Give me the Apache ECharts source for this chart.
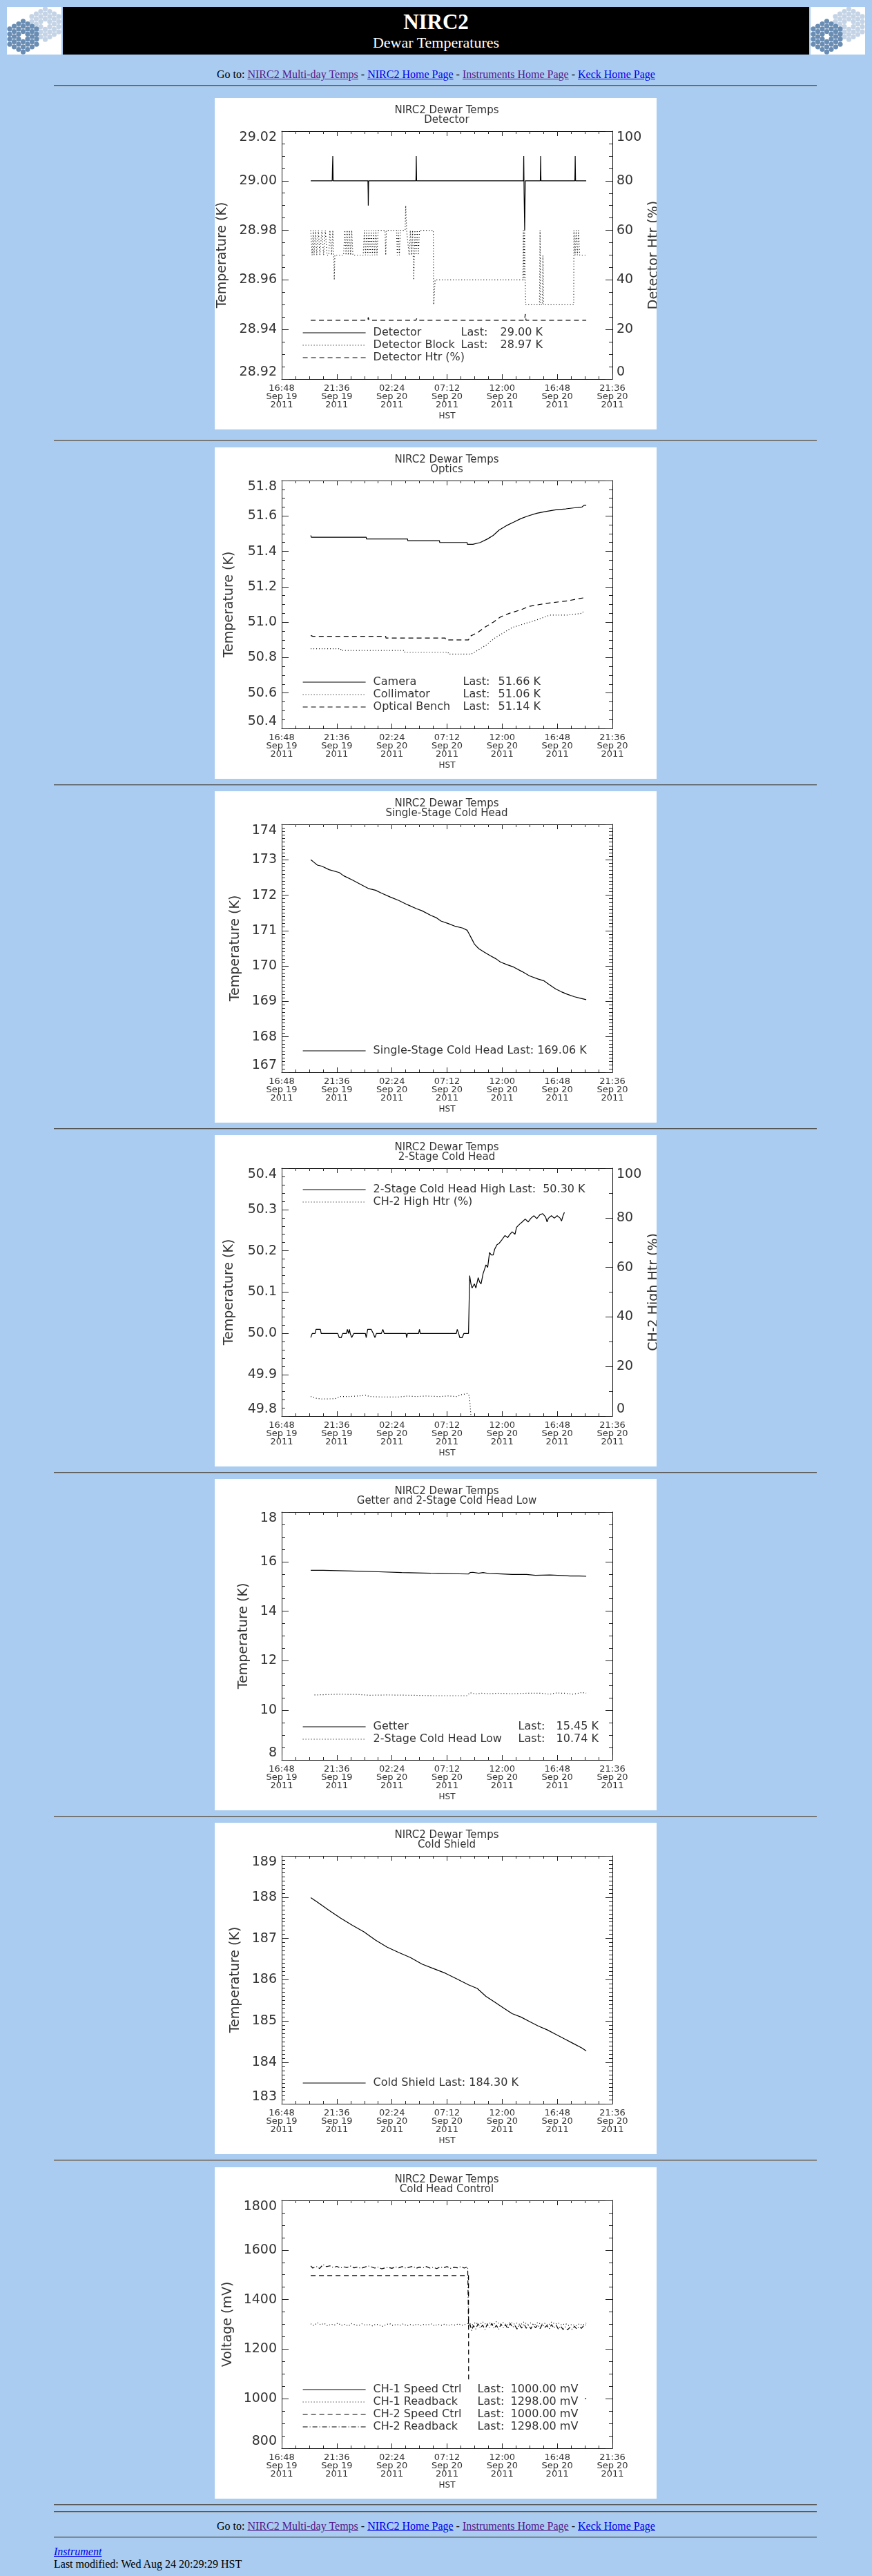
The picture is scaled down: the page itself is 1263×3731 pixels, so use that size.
<!DOCTYPE html>
<html><head><meta charset="utf-8">
<script src="https://cdn.jsdelivr.net/npm/echarts@6/dist/echarts.min.js"></script>
<style>
html,body{margin:0;padding:0}
body{background:#a9ccf0;font-family:"Liberation Serif","Times New Roman",serif;width:1263px;height:3731px;position:relative;overflow:hidden}
.hr{position:absolute;left:78px;width:1105px;height:0;border-top:1px solid #555;border-bottom:1px solid #9a9a9a}
.chart{position:absolute;left:311px;width:640px;height:480px;background:#fff}
.nav{position:absolute;left:0;width:1263px;text-align:center;font-size:16px;line-height:18px;color:#000}
a{color:#0000ee}
a.v{color:#551a8b}
.logo{position:absolute;top:10px;width:79px;height:69px;background:#fff;overflow:hidden}
</style></head>
<body>
<div class="logo" id="logoL" style="left:10px"></div>
<div style="position:absolute;left:91px;top:10px;width:1081px;height:69px;background:#000"></div>
<div class="logo" id="logoR" style="left:1174px"></div>
<div style="position:absolute;left:91px;top:14px;width:1081px;text-align:center;color:#fff;font-weight:bold;font-size:31px;line-height:36px">NIRC2</div>
<div style="position:absolute;left:91px;top:49px;width:1081px;text-align:center;color:#fff;font-size:22px;line-height:26px">Dewar Temperatures</div>
<div class="nav" style="top:99px">Go to: <a class="v" href="#">NIRC2 Multi-day Temps</a> - <a href="#">NIRC2 Home Page</a> - <a class="v" href="#">Instruments Home Page</a> - <a href="#">Keck Home Page</a></div>

<div class="hr" style="top:123px"></div>
<div class="chart" id="c1" style="top:142px"></div>
<div class="hr" style="top:637px"></div>
<div class="chart" id="c2" style="top:648px"></div>
<div class="hr" style="top:1136px"></div>
<div class="chart" id="c3" style="top:1146px"></div>
<div class="hr" style="top:1634px"></div>
<div class="chart" id="c4" style="top:1644px"></div>
<div class="hr" style="top:2132px"></div>
<div class="chart" id="c5" style="top:2142px"></div>
<div class="hr" style="top:2630px"></div>
<div class="chart" id="c6" style="top:2640px"></div>
<div class="hr" style="top:3128px"></div>
<div class="chart" id="c7" style="top:3139px"></div>
<div class="hr" style="top:3627px"></div>
<div class="hr" style="top:3637px"></div>
<div class="nav" style="top:3650px">Go to: <a class="v" href="#">NIRC2 Multi-day Temps</a> - <a href="#">NIRC2 Home Page</a> - <a class="v" href="#">Instruments Home Page</a> - <a href="#">Keck Home Page</a></div>
<div class="hr" style="top:3674px"></div>
<div style="position:absolute;left:78px;top:3687px;font-size:16px;line-height:18px"><a href="#"><i>Instrument</i></a></div>
<div style="position:absolute;left:78px;top:3705px;font-size:16px;line-height:18px">Last modified: Wed Aug 24 20:29:29 HST</div>

<script>
// ---------- DATA (time = hours since Sep 19 2011 00:00 HST) ----------
const xTickLabels = ['16:48\nSep 19\n2011','21:36\nSep 19\n2011','02:24\nSep 20\n2011','07:12\nSep 20\n2011','12:00\nSep 20\n2011','16:48\nSep 20\n2011','21:36\nSep 20\n2011'];

const detectorK = [[19.33,29.00],[21.20,29.00],[21.22,29.005],[21.25,29.01],[21.28,29.00],[24.31,29.00],[24.33,28.995],[24.34,28.99],[24.37,29.00],[28.49,29.00],[28.51,29.005],[28.52,29.01],[28.55,29.00],[37.85,29.00],[37.88,29.01],[37.91,28.995],[37.96,28.98],[38.01,29.00],[39.32,29.00],[39.34,29.005],[39.35,29.01],[39.38,29.00],[42.33,29.00],[42.35,29.005],[42.36,29.01],[42.39,29.00],[43.32,29.00]];
const detBlockK = [[19.33,28.98],[19.45,28.97],[19.55,28.98],[19.62,28.97],[19.75,28.98],[19.85,28.97],[20.0,28.98],[20.12,28.97],[20.3,28.98],[20.45,28.97],[20.6,28.98],[20.75,28.97],[20.9,28.97],[21.0,28.98],[21.15,28.97],[21.25,28.98],[21.33,28.97],[21.38,28.96],[21.43,28.97],[22.19,28.97],[22.3,28.98],[22.4,28.97],[22.5,28.98],[22.6,28.97],[22.7,28.98],[22.8,28.97],[22.9,28.98],[23.0,28.97],[23.9,28.97],[24.0,28.98],[24.1,28.97],[24.2,28.98],[24.3,28.97],[24.4,28.98],[24.5,28.97],[24.6,28.98],[24.7,28.97],[24.8,28.98],[24.9,28.97],[25.0,28.98],[25.1,28.97],[25.2,28.98],[25.8,28.98],[25.86,28.97],[25.92,28.98],[26.8,28.98],[26.87,28.97],[26.95,28.98],[27.05,28.97],[27.13,28.98],[27.55,28.98],[27.6,28.99],[27.68,28.98],[27.8,28.98],[27.9,28.97],[28.0,28.98],[28.1,28.97],[28.2,28.98],[28.3,28.96],[28.4,28.98],[28.5,28.97],[28.6,28.98],[28.7,28.97],[28.8,28.98],[30.0,28.98],[30.04,28.95],[30.16,28.96],[37.8,28.96],[37.85,28.98],[37.9,28.96],[37.95,28.98],[38.0,28.96],[38.05,28.95],[39.25,28.95],[39.3,28.98],[39.35,28.95],[39.5,28.95],[39.55,28.97],[39.6,28.95],[42.23,28.95],[42.25,28.98],[42.35,28.97],[42.45,28.98],[42.55,28.97],[42.65,28.98],[42.75,28.97],[43.32,28.97]];
const detHtrPct = [[19.33,23.7],[24.30,23.7],[24.34,24.9],[24.40,23.7],[28.50,23.7],[28.55,24.4],[28.60,23.7],[37.95,23.7],[38.01,26.2],[38.08,23.7],[43.32,23.7]];

const cameraK = [[19.33,51.49],[19.38,51.48],[24.16,51.48],[24.18,51.47],[27.76,51.47],[27.78,51.46],[30.54,51.46],[30.56,51.45],[32.95,51.45],[32.97,51.44],[33.45,51.44],[34.09,51.45],[34.72,51.47],[35.22,51.49],[35.73,51.52],[36.36,51.545],[37.0,51.565],[37.63,51.585],[38.26,51.60],[39.02,51.615],[39.78,51.625],[40.67,51.635],[41.55,51.64],[42.18,51.645],[42.94,51.65],[43.13,51.66],[43.32,51.66]];
const collimatorK = [[19.33,50.85],[21.94,50.85],[21.96,50.84],[27.51,50.84],[27.53,50.83],[31.30,50.83],[31.32,50.82],[33.33,50.82],[33.83,50.84],[34.59,50.87],[35.35,50.91],[36.11,50.94],[36.87,50.97],[37.88,50.99],[38.89,51.01],[40.16,51.04],[41.68,51.04],[42.94,51.05],[43.07,51.06]];
const benchK = [[19.33,50.925],[19.5,50.92],[25.86,50.92],[25.88,50.91],[31.05,50.91],[31.07,50.90],[33.07,50.90],[33.2,50.92],[33.83,50.94],[34.46,50.97],[35.22,51.00],[35.86,51.03],[36.62,51.05],[37.63,51.07],[38.39,51.09],[39.27,51.10],[40.29,51.11],[41.68,51.12],[42.44,51.13],[43.32,51.14]];

const singleStageK = [[19.33,173.00],[19.53,172.95],[19.91,172.85],[20.29,172.82],[20.93,172.72],[21.81,172.64],[22.19,172.55],[22.95,172.43],[23.71,172.30],[24.34,172.19],[24.97,172.14],[25.48,172.06],[26.24,171.95],[27.00,171.85],[27.76,171.73],[28.52,171.62],[29.02,171.56],[29.78,171.43],[30.29,171.36],[30.67,171.27],[31.30,171.20],[31.93,171.12],[32.57,171.07],[32.95,171.01],[33.07,170.94],[33.33,170.78],[33.58,170.62],[33.96,170.49],[34.46,170.39],[34.97,170.29],[35.48,170.20],[35.86,170.11],[36.49,170.03],[37.00,169.97],[37.75,169.84],[38.39,169.72],[39.15,169.63],[39.65,169.58],[40.16,169.46],[40.67,169.35],[41.17,169.27],[41.68,169.20],[42.31,169.13],[42.82,169.09],[43.32,169.05]];

const twoStageHighK = [[19.33,49.99],[19.46,50.00],[19.71,50.00],[19.79,50.01],[20.17,50.01],[20.24,50.00],[21.68,50.00],[21.81,49.99],[21.99,49.99],[22.11,50.00],[22.44,50.00],[22.52,50.01],[22.62,50.00],[22.70,50.01],[22.77,50.00],[22.90,49.99],[23.08,50.00],[24.09,50.00],[24.16,49.99],[24.29,50.01],[24.59,50.01],[24.77,50.00],[24.92,49.99],[25.05,50.00],[25.48,50.00],[25.61,50.01],[25.73,50.00],[27.63,50.00],[27.68,49.99],[27.76,50.00],[28.72,50.00],[28.80,50.01],[28.87,50.00],[32.01,50.00],[32.09,50.01],[32.21,50.00],[32.31,49.99],[32.52,49.99],[32.67,50.00],[33.07,50.00],[33.12,50.07],[33.17,50.14],[33.28,50.12],[33.38,50.11],[33.58,50.12],[33.71,50.11],[33.91,50.135],[34.03,50.125],[34.16,50.12],[34.34,50.145],[34.46,50.155],[34.59,50.166],[34.74,50.16],[34.90,50.196],[35.05,50.19],[35.22,50.19],[35.35,50.204],[35.55,50.215],[35.73,50.218],[35.98,50.227],[36.24,50.237],[36.49,50.232],[36.62,50.238],[36.87,50.246],[37.12,50.24],[37.25,50.257],[37.50,50.264],[37.75,50.27],[38.01,50.277],[38.26,50.27],[38.51,50.279],[38.77,50.285],[39.02,50.278],[39.27,50.287],[39.53,50.29],[39.78,50.282],[39.91,50.27],[40.03,50.279],[40.29,50.285],[40.54,50.279],[40.79,50.285],[41.05,50.279],[41.17,50.272],[41.30,50.285],[41.42,50.293]];
const ch2HighHtrPct = [[19.33,7.9],[19.79,7.2],[20.29,6.9],[21.43,7.0],[21.94,7.9],[22.70,7.9],[23.46,8.1],[24.09,8.4],[24.47,7.9],[25.48,7.7],[27.00,7.7],[27.76,8.1],[28.52,7.9],[29.28,8.1],[30.54,7.9],[31.30,8.1],[32.06,7.9],[32.44,8.6],[32.95,9.1],[33.07,8.9],[33.15,8.1],[33.28,0],[33.33,0]];

const getterK = [[19.33,15.65],[20.42,15.65],[20.47,15.62],[22.82,15.62],[22.87,15.59],[25.23,15.59],[25.28,15.56],[27.25,15.56],[27.30,15.53],[29.78,15.53],[29.83,15.50],[33.07,15.50],[33.20,15.56],[33.45,15.57],[33.96,15.53],[34.34,15.56],[34.84,15.52],[35.60,15.51],[36.87,15.48],[38.13,15.48],[38.89,15.45],[40.16,15.46],[41.17,15.44],[41.93,15.42],[42.69,15.42],[43.32,15.41]];
const twoStageLowK = [[19.66,10.62],[21.68,10.65],[23.46,10.64],[24.47,10.61],[25.99,10.62],[28.01,10.61],[30.04,10.59],[32.95,10.59],[33.20,10.71],[33.71,10.66],[34.21,10.69],[34.84,10.67],[35.60,10.69],[36.87,10.67],[38.13,10.69],[39.40,10.69],[40.16,10.65],[40.67,10.70],[41.42,10.69],[42.18,10.65],[42.94,10.72],[43.32,10.69]];

const coldShieldK = [[19.33,187.99],[19.91,187.88],[20.93,187.68],[21.94,187.49],[22.95,187.32],[23.96,187.16],[24.97,186.96],[25.99,186.79],[27.00,186.66],[28.01,186.54],[29.02,186.38],[30.04,186.27],[31.05,186.16],[32.06,186.02],[33.07,185.88],[33.83,185.79],[34.59,185.60],[35.35,185.46],[36.11,185.32],[36.87,185.18],[37.63,185.10],[38.39,184.99],[39.15,184.88],[39.91,184.79],[40.67,184.68],[41.42,184.57],[42.18,184.46],[42.94,184.35],[43.32,184.28]];

const ch1SpeedMV = [[43.20,1000],[43.32,1000]];
const ch1ReadMV = [[19.33,1302],[19.6,1295],[19.9,1307],[20.2,1298],[20.5,1304],[20.8,1294],[21.1,1301],[21.4,1297],[21.7,1305],[22.0,1296],[22.3,1300],[22.6,1293],[22.9,1303],[23.2,1298],[23.5,1295],[23.8,1302],[24.1,1296],[24.4,1300],[24.7,1294],[25.0,1301],[25.3,1297],[25.6,1292],[25.9,1299],[26.2,1303],[26.5,1295],[26.8,1300],[27.1,1296],[27.4,1302],[27.7,1294],[28.0,1299],[28.3,1296],[28.6,1301],[28.9,1295],[29.2,1300],[29.5,1297],[29.8,1302],[30.1,1294],[30.4,1300],[30.7,1296],[31.0,1301],[31.3,1295],[31.6,1299],[31.9,1297],[32.2,1302],[32.5,1296],[32.8,1300],[33.1,1305],[33.4,1298],[33.7,1308],[34.0,1296],[34.3,1310],[34.6,1299],[34.9,1306],[35.2,1297],[35.5,1311],[35.8,1300],[36.1,1307],[36.4,1296],[36.7,1309],[37.0,1301],[37.3,1305],[37.6,1298],[37.9,1310],[38.2,1299],[38.5,1306],[38.8,1297],[39.1,1308],[39.4,1300],[39.7,1304],[40.0,1296],[40.3,1309],[40.6,1301],[40.9,1305],[41.2,1297],[41.5,1303],[41.8,1295],[42.1,1300],[42.4,1294],[42.7,1302],[43.0,1297],[43.32,1305]];
const ch2SpeedMV = [[19.33,1497],[33.07,1497],[33.08,1075]];
const ch2ReadMV = [[19.33,1536],[19.5,1527],[19.7,1531],[19.9,1533],[20.1,1525],[20.4,1541],[20.7,1533],[21.0,1536],[21.3,1529],[21.6,1534],[21.9,1527],[22.2,1532],[22.5,1529],[22.8,1535],[23.1,1528],[23.4,1531],[23.7,1526],[24.0,1530],[24.3,1536],[24.6,1532],[24.9,1527],[25.2,1531],[25.5,1524],[25.8,1528],[26.1,1530],[26.4,1526],[26.7,1532],[27.0,1528],[27.3,1533],[27.6,1527],[27.9,1530],[28.2,1534],[28.5,1526],[28.8,1531],[29.1,1528],[29.4,1533],[29.7,1527],[30.0,1530],[30.3,1525],[30.6,1531],[30.9,1528],[31.2,1533],[31.5,1526],[31.8,1530],[32.1,1528],[32.4,1533],[32.7,1527],[33.0,1532],[33.07,1290],[33.2,1300],[33.35,1275],[33.5,1295],[33.7,1281],[33.9,1302],[34.1,1285],[34.3,1297],[34.5,1279],[34.7,1300],[34.9,1287],[35.1,1304],[35.3,1283],[35.5,1296],[35.7,1280],[35.9,1301],[36.1,1286],[36.3,1298],[36.5,1282],[36.7,1303],[36.9,1288],[37.1,1296],[37.3,1281],[37.5,1299],[37.7,1285],[37.9,1302],[38.1,1284],[38.3,1297],[38.5,1282],[38.7,1300],[38.9,1286],[39.1,1298],[39.3,1283],[39.5,1301],[39.7,1287],[39.9,1295],[40.1,1282],[40.3,1299],[40.5,1285],[40.7,1297],[40.9,1280],[41.1,1293],[41.3,1279],[41.5,1290],[41.7,1278],[41.9,1288],[42.1,1280],[42.3,1292],[42.5,1281],[42.7,1290],[42.9,1284],[43.1,1295],[43.32,1298]];

// ---------- helpers ----------
const FONT = '"DejaVu Sans", Verdana, sans-serif';
const TXT = '#333';
const X0_H = 16.8;          // axis start: Sep 19 16:48
const X_STEP = 288;         // minutes (4h48m)
function toX(h){ return Math.round((h - X0_H) * 60 * 100) / 100; }
function pts(a){ return a.map(p => [toX(p[0]), p[1]]); }
const SOLID = 'solid', DOT = [1, 3], DASH = [7, 5], DASHDOT = [7, 3, 1, 3];

function xAxis(pos){
  const bottom = pos === 'bottom';
  return {type:'value', position:pos, min:0, max:X_STEP*6, interval:X_STEP,
    axisLine:{show:true, onZero:false, lineStyle:{color:'#111', width:1}},
    axisTick:{show:true, inside:true, length:7, lineStyle:{color:'#222'}},
    minorTick:{show:true, splitNumber:4, length:4, lineStyle:{color:'#222'}},
    splitLine:{show:false}, minorSplitLine:{show:false},
    axisLabel: bottom ? {show:true, margin:8, fontSize:13, lineHeight:12, fontFamily:FONT, color:TXT,
      formatter: v => xTickLabels[Math.round(v / X_STEP)] || ''} : {show:false},
    name: bottom ? 'HST' : '', nameLocation:'middle', nameGap:48, nameMoveOverlap:false,
    nameTextStyle:{fontSize:12, fontFamily:FONT, color:TXT}
  };
}
function yAxis(c, pos, labels, name, gap){
  return {type:'value', position:pos, min:c.min, max:c.max, interval:c.step,
    axisLine:{show:true, onZero:false, lineStyle:{color:'#111', width:1}},
    axisTick:{show:true, inside:true, length:10, lineStyle:{color:'#222'}},
    minorTick:{show:true, splitNumber:c.minor, length:5, lineStyle:{color:'#222'}},
    splitLine:{show:false}, minorSplitLine:{show:false},
    axisLabel:{show:labels, margin: pos === 'left' ? 7 : 6, fontSize:19, fontFamily:FONT, color:TXT,
      formatter: v => v.toFixed(c.dec), verticalAlignMaxLabel:'top', verticalAlignMinLabel:'bottom'},
    name: name || '', nameLocation:'middle', nameGap:gap || 0, nameMoveOverlap:false,
    nameTextStyle:{fontSize:19, fontFamily:FONT, color:TXT}
  };
}
function line(name, data, type, yIdx){
  return {name, type:'line', data:pts(data), xAxisIndex:0, yAxisIndex:yIdx || 0, symbol:'none', showSymbol:false,
    animation:false, silent:true, clip:true, lineStyle:{color:'#000', width:1.2, type:type}};
}
function legend(rows, top, w1, w2){
  const map = {}; rows.forEach(r => map[r[0]] = r);
  const ts = {fontFamily:FONT, fontSize:16, color:TXT, lineHeight:18};
  const S = o => Object.assign({}, ts, o || {});
  return {orient:'vertical', left:127, top:top, padding:0, itemWidth:91, itemHeight:18, itemGap:0,
    selectedMode:false, itemStyle:{opacity:0}, lineStyle:{width:1.2}, data:rows.map(r => r[0]),
    formatter: n => { const r = map[n]; return r[2] ? `{g| }{n|${r[1]}}{l|Last:}{v|${r[2]}}` : `{g| }{p|${r[1]}}`; },
    textStyle: S({rich:{g:S({width:6}), n:S({width:w1}), l:S({width:w2}), v:S(), p:S()}})
  };
}
function chart(id, title, yc, yName, yGap, series, leg, right){
  const el = document.getElementById(id);
  const ch = echarts.init(el, null, {renderer:'canvas'});
  const yAxes = [yAxis(yc, 'left', true, yName, yGap)];
  if (right) yAxes.push(yAxis(right.c, 'right', true, right.name, 51));
  else yAxes.push(yAxis(yc, 'right', false));
  ch.setOption({
    animation:false, backgroundColor:'#fff',
    title:{text:'NIRC2 Dewar Temps\n' + title, left:336, top:11, padding:0, textAlign:'center', textVerticalAlign:'top',
      textStyle:{fontSize:15, lineHeight:14, fontWeight:'normal', fontFamily:FONT, color:TXT}},
    grid:{left:97, top:48, width:479, height:359, containLabel:false, outerBoundsMode:'none'},
    xAxis:[xAxis('bottom'), xAxis('top')],
    yAxis:yAxes,
    legend:leg,
    series:series
  });
}

// ---------- charts ----------
chart('c1', 'Detector', {min:28.92, max:29.02, step:0.02, minor:4, dec:2}, 'Temperature (K)', 76,
  [line('Detector', detectorK, SOLID), line('Detector Block', detBlockK, DOT), line('Detector Htr (%)', detHtrPct, DASH, 1)],
  legend([['Detector','Detector','29.00 K'],['Detector Block','Detector Block','28.97 K'],['Detector Htr (%)','Detector Htr (%)','']], 331, 127, 57),
  {c:{min:0, max:100, step:20, minor:4, dec:0}, name:'Detector Htr (%)'});

chart('c2', 'Optics', {min:50.4, max:51.8, step:0.2, minor:4, dec:1}, 'Temperature (K)', 66,
  [line('Camera', cameraK, SOLID), line('Collimator', collimatorK, DOT), line('Optical Bench', benchK, DASH)],
  legend([['Camera','Camera','51.66 K'],['Collimator','Collimator','51.06 K'],['Optical Bench','Optical Bench','51.14 K']], 331, 130, 51));

chart('c3', 'Single-Stage Cold Head', {min:167, max:174, step:1, minor:10, dec:0}, 'Temperature (K)', 57,
  [line('Single-Stage Cold Head', singleStageK, SOLID)],
  legend([['Single-Stage Cold Head','Single-Stage Cold Head Last: 169.06 K','']], 367, 0, 0));

chart('c4', '2-Stage Cold Head', {min:49.8, max:50.4, step:0.1, minor:5, dec:1}, 'Temperature (K)', 66,
  [line('2-Stage Cold Head High', twoStageHighK, SOLID), line('CH-2 High Htr (%)', ch2HighHtrPct, DOT, 1)],
  legend([['2-Stage Cold Head High','2-Stage Cold Head High Last:  50.30 K',''],['CH-2 High Htr (%)','CH-2 High Htr (%)','']], 70, 0, 0),
  {c:{min:0, max:100, step:20, minor:2, dec:0}, name:'CH-2 High Htr (%)'});

chart('c5', 'Getter and 2-Stage Cold Head Low', {min:8, max:18, step:2, minor:4, dec:0}, 'Temperature (K)', 45,
  [line('Getter', getterK, SOLID), line('2-Stage Cold Head Low', twoStageLowK, DOT)],
  legend([['Getter','Getter','15.45 K'],['2-Stage Cold Head Low','2-Stage Cold Head Low','10.74 K']], 350, 210, 55));

chart('c6', 'Cold Shield', {min:183, max:189, step:1, minor:10, dec:0}, 'Temperature (K)', 57,
  [line('Cold Shield', coldShieldK, SOLID)],
  legend([['Cold Shield','Cold Shield Last: 184.30 K','']], 368, 0, 0));

chart('c7', 'Cold Head Control', {min:800, max:1800, step:200, minor:4, dec:0}, 'Voltage (mV)', 68,
  [line('CH-1 Speed Ctrl', ch1SpeedMV, SOLID), line('CH-1 Readback', ch1ReadMV, DOT), line('CH-2 Speed Ctrl', ch2SpeedMV, DASH), line('CH-2 Readback', ch2ReadMV, DASHDOT)],
  legend([['CH-1 Speed Ctrl','CH-1 Speed Ctrl','1000.00 mV'],['CH-1 Readback','CH-1 Readback','1298.00 mV'],['CH-2 Speed Ctrl','CH-2 Speed Ctrl','1000.00 mV'],['CH-2 Readback','CH-2 Readback','1298.00 mV']], 313, 151, 48));

// ---------- Keck segmented-mirror logos ----------
function logoSVG(){
  let s = '<svg width="79" height="69" xmlns="http://www.w3.org/2000/svg">';
  function cluster(cx, cy, col){
    for (let q = -3; q <= 3; q++) for (let r = -3; r <= 3; r++) {
      if (Math.abs(q + r) > 3 || (q === 0 && r === 0)) continue;
      const x = cx + q * 6.5, y = cy + (r + q / 2) * 7.4;
      s += `<circle cx="${x.toFixed(1)}" cy="${y.toFixed(1)}" r="3.6" fill="${col}"/>`;
    }
  }
  cluster(55.5, 25, '#c4d4e6');
  cluster(23.5, 43, '#6a8db4');
  return s + '</svg>';
}
document.getElementById('logoL').innerHTML = logoSVG();
document.getElementById('logoR').innerHTML = logoSVG();
</script>
</body></html>
